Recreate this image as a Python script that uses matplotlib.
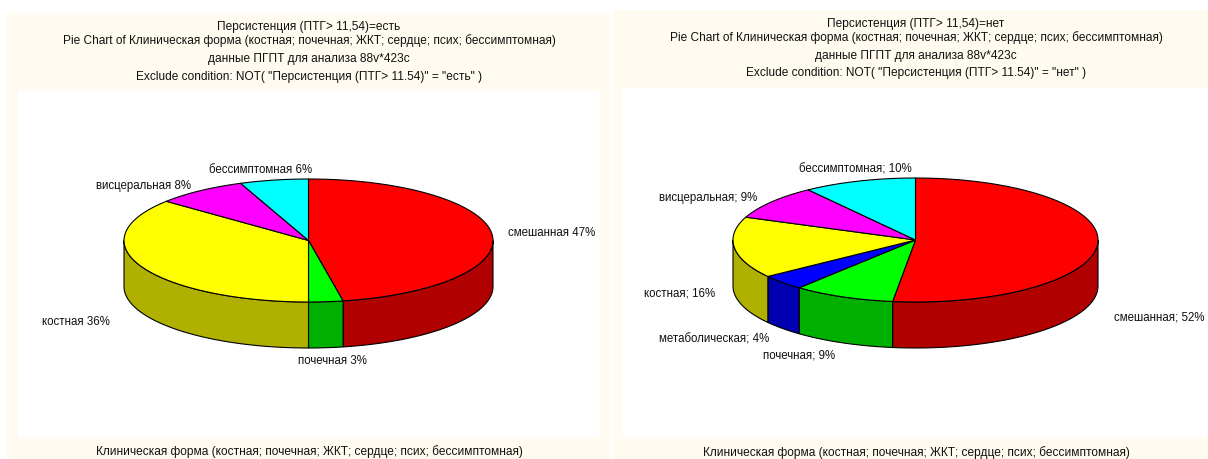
import numpy as np
import matplotlib
matplotlib.use("Agg")
import matplotlib.pyplot as plt
from matplotlib.patches import Polygon, Rectangle

plt.rcParams['font.family'] = ['Liberation Sans', 'DejaVu Sans']

W, H = 1208, 459

# data
left_names = ["смешанная", "почечная", "костная", "висцеральная", "бессимптомная"]
left_vals = [47, 3, 36, 8, 6]
left_cols = ["red", "green", "yellow", "magenta", "cyan"]
left_titles = ["Персистенция (ПТГ> 11,54)=есть",
               "Pie Chart of Клиническая форма (костная; почечная; ЖКТ; сердце; псих; бессимптомная)",
               "данные ПГПТ для анализа 88v*423c",
               "Exclude condition: NOT( \"Персистенция (ПТГ> 11.54)\" = \"есть\" )"]

right_names = ["смешанная", "почечная", "метаболическая", "костная", "висцеральная", "бессимптомная"]
right_vals = [52, 9, 4, 16, 9, 10]
right_cols = ["red", "green", "blue", "yellow", "magenta", "cyan"]
right_titles = ["Персистенция (ПТГ> 11,54)=нет",
                "Pie Chart of Клиническая форма (костная; почечная; ЖКТ; сердце; псих; бессимптомная)",
                "данные ПГПТ для анализа 88v*423c",
                "Exclude condition: NOT( \"Персистенция (ПТГ> 11.54)\" = \"нет\" )"]

xlabel = "Клиническая форма (костная; почечная; ЖКТ; сердце; псих; бессимптомная)"

top_col = {"red": "#ff0000", "green": "#00ff00", "blue": "#0000ff",
           "yellow": "#ffff00", "magenta": "#ff00ff", "cyan": "#00ffff"}
side_col = {"red": "#b00000", "green": "#00b000", "blue": "#0000b0",
            "yellow": "#b0b000", "magenta": "#b000b0", "cyan": "#00b0b0"}
cream = "#fffbf0"

fig = plt.figure(figsize=(W / 100, H / 100), dpi=100)
ax = fig.add_axes([0, 0, 1, 1])
ax.set_xlim(0, W)
ax.set_ylim(H, 0)
ax.axis("off")


def pie3d(vals, cols, cx, cy, rx, ry, depth):
    fr = np.cumsum([0] + vals) / sum(vals) * 2 * np.pi
    # side walls first, only the front half is visible
    for i, c in enumerate(cols):
        a0 = max(fr[i], np.pi / 2)
        a1 = min(fr[i + 1], 3 * np.pi / 2)
        if a1 > a0:
            t = np.linspace(a0, a1, 80)
            x = cx + rx * np.sin(t)
            y = cy - ry * np.cos(t)
            pts = np.vstack([np.c_[x, y], np.c_[x[::-1], y[::-1] + depth]])
            ax.add_patch(Polygon(pts, fc=side_col[c], ec="black", lw=0.8, zorder=2))
    for i, c in enumerate(cols):
        t = np.linspace(fr[i], fr[i + 1], 120)
        pts = np.vstack([[cx, cy], np.c_[cx + rx * np.sin(t), cy - ry * np.cos(t)]])
        ax.add_patch(Polygon(pts, fc=top_col[c], ec="black", lw=0.8, zorder=3))


def panel(x0, y0, x1, wx0, wy0, wx1, wy1):
    ax.add_patch(Rectangle((x0, y0), x1 - x0, H - y0, fc=cream, ec="none", zorder=0))
    ax.add_patch(Rectangle((wx0, wy0), wx1 - wx0, wy1 - wy0, fc="white", ec="none", zorder=1))


def txt(x, y, s, size=8.3):
    ax.text(x, y, s, ha="center", va="center", fontsize=size, color="#111111", zorder=5)


# left
panel(7, 13, 610, 18, 91, 600, 437)
pie3d(left_vals, left_cols, 308.5, 240.5, 184.5, 61.5, 46)
for y, s in zip([27, 41, 59, 77], left_titles):
    txt(309, y, s, 8.55)
txt(309, 452, xlabel, 8.55)
left_pos = [(552, 233), (332, 361), (76, 322), (144, 186), (261, 170)]
for (x, y), n, v in zip(left_pos, left_names, left_vals):
    txt(x, y, f"{n} {v}%")

# right
panel(613, 10, W, 623, 88, W, 437)
pie3d(right_vals, right_cols, 915.5, 240, 182.5, 62, 46)
for y, s in zip([24, 38, 56, 73], right_titles):
    txt(916, y, s, 8.55)
txt(916, 453, xlabel, 8.55)
right_pos = [(1159, 318), (799, 355), (714, 340), (680, 294), (708, 198), (855, 169)]
for (x, y), n, v in zip(right_pos, right_names, right_vals):
    txt(x, y, f"{n}; {v}%")

fig.savefig("out.png", dpi=100, facecolor="white")
